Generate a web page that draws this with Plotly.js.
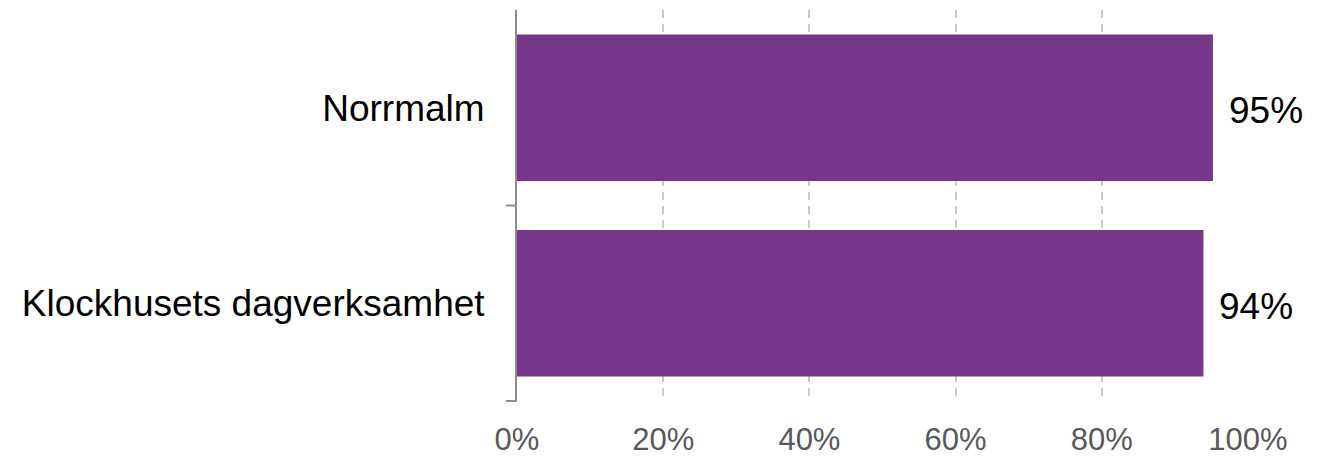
<!DOCTYPE html>
<html>
<head>
<meta charset="utf-8">
<script src="https://cdn.plot.ly/plotly-3.0.1.min.js"></script>
<style>html,body{margin:0;padding:0;background:#fff;}#chart{width:1327px;height:458px;}</style>
</head>
<body>
<div id="chart"></div>
<script>
const categories = ['Norrmalm', 'Klockhusets dagverksamhet'];
const values = [0.952, 0.939];
const xTickVals = [0, 0.2, 0.4, 0.6, 0.8, 1.0];
const xTickText = ['0%', '20%', '40%', '60%', '80%', '100%'];
const boundaryTicks = [0.5, 1.5];

const trace = {
  type: 'bar',
  orientation: 'h',
  y: categories,
  x: values,
  marker: {color: '#76368A'},
  width: 0.75,
  hoverinfo: 'none'
};

const annotations = values.map((v, i) => ({
  x: v, y: categories[i], xref: 'x', yref: 'y',
  text: Math.round(v * 100) + '%',
  showarrow: false, xanchor: 'left', yanchor: 'middle',
  xshift: 14, yshift: -3,
  font: {family: 'Liberation Sans, Arial, sans-serif', size: 37, color: '#000'}
}));

const shapes = boundaryTicks.map(b => ({
  type: 'line', xref: 'paper', yref: 'y',
  xsizemode: 'pixel', xanchor: 0, x0: -11, x1: 0,
  y0: b, y1: b,
  line: {color: '#8C8C8C', width: 2}
}));

const layout = {
  width: 1327, height: 458,
  margin: {l: 517, r: 79, t: 10, b: 56, pad: 0},
  paper_bgcolor: '#fff', plot_bgcolor: '#fff',
  showlegend: false,
  font: {family: 'Liberation Sans, Arial, sans-serif'},
  xaxis: {
    range: [0, 1],
    tickvals: xTickVals, ticktext: xTickText,
    showgrid: true, gridcolor: '#C8C8C8', gridwidth: 2, griddash: '8px,6px',
    zeroline: false, showline: false, ticks: '',
    tickfont: {size: 31, color: '#595959'},
    ticklabelstandoff: 16,
    fixedrange: true
  },
  yaxis: {
    type: 'category',
    autorange: 'reversed',
    showgrid: false, zeroline: false,
    showline: true, linecolor: '#8C8C8C', linewidth: 2,
    ticks: '',
    tickfont: {size: 37, color: '#000'},
    ticklabelstandoff: 23,
    fixedrange: true
  },
  shapes: shapes,
  annotations: annotations
};

Plotly.newPlot('chart', [trace], layout, {displayModeBar: false, staticPlot: true});
</script>
</body>
</html>
